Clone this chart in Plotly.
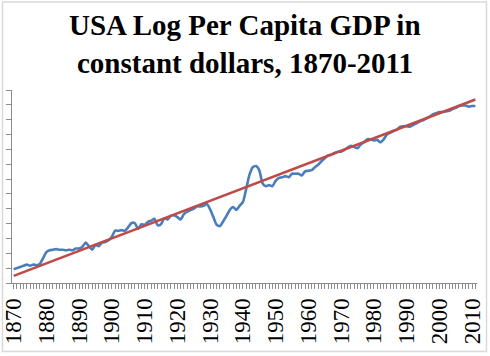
import plotly.graph_objects as go

years = list(range(1870, 2012))

log_gdp = [
    7.83, 7.85, 7.87, 7.89, 7.91, 7.89, 7.91, 7.90, 7.92, 8.02,  # 1870-1879
    8.12, 8.15, 8.16, 8.17, 8.16, 8.16, 8.15, 8.16, 8.15, 8.18,  # 1880-1889
    8.18, 8.21, 8.28, 8.22, 8.16, 8.24, 8.22, 8.28, 8.29, 8.32,  # 1890-1899
    8.38, 8.48, 8.48, 8.49, 8.48, 8.54, 8.61, 8.61, 8.51, 8.59,  # 1900-1909
    8.58, 8.63, 8.65, 8.68, 8.57, 8.59, 8.69, 8.67, 8.73, 8.74,  # 1910-1919
    8.71, 8.67, 8.76, 8.80, 8.83, 8.85, 8.89, 8.89, 8.90, 8.93,  # 1920-1929
    8.84, 8.71, 8.58, 8.56, 8.64, 8.73, 8.83, 8.88, 8.83, 8.90,  # 1930-1939
    8.96, 9.18, 9.42, 9.55, 9.57, 9.50, 9.28, 9.23, 9.25, 9.23,  # 1940-1949
    9.32, 9.37, 9.38, 9.40, 9.38, 9.44, 9.44, 9.44, 9.41, 9.48,  # 1950-1959
    9.49, 9.50, 9.55, 9.59, 9.65, 9.70, 9.75, 9.76, 9.79, 9.81,  # 1960-1969
    9.81, 9.84, 9.88, 9.91, 9.89, 9.87, 9.93, 9.97, 10.02, 10.02,  # 1970-1979
    10.00, 10.01, 9.97, 10.02, 10.10, 10.13, 10.16, 10.18, 10.23, 10.24,  # 1980-1989
    10.24, 10.23, 10.26, 10.29, 10.32, 10.34, 10.37, 10.40, 10.44, 10.46,  # 1990-1999
    10.48, 10.48, 10.49, 10.50, 10.53, 10.55, 10.58, 10.59, 10.59, 10.57,  # 2000-2009
    10.58, 10.58,  # 2010-2011
]

trend_years = [1870, 2011]
trend_values = [7.72, 10.69]

tick_years = list(range(1870, 2011, 10))

title_lines = ["USA Log Per Capita GDP in", "constant dollars, 1870-2011"]

SERIF = "Liberation Serif, Times New Roman, serif"

fig = go.Figure()
fig.add_trace(go.Scatter(
    x=years, y=log_gdp, mode="lines",
    line=dict(color="#4a7ebb", width=2.6, shape="spline", smoothing=0.6),
    showlegend=False, hoverinfo="x+y",
))
fig.add_trace(go.Scatter(
    x=trend_years, y=trend_values, mode="lines",
    line=dict(color="#be4b48", width=2.6),
    showlegend=False, hoverinfo="x+y",
))

fig.update_layout(
    width=490, height=356,
    margin=dict(l=12, r=13, t=90, b=73, pad=0, autoexpand=False),
    paper_bgcolor="white", plot_bgcolor="white",
    xaxis=dict(
        range=[1869.5, 2011.5],
        tickmode="array", tickvals=tick_years, ticktext=[str(y) for y in tick_years],
        tickangle=-90,
        tickfont=dict(family=SERIF, size=23, color="black"),
        ticks="outside", ticklen=5, tickcolor="#8c8c8c", tickwidth=1,
        minor=dict(ticks="outside", dtick=1, tick0=1870, ticklen=5, tickcolor="#8c8c8c", tickwidth=1, showgrid=False),
        showline=True, linecolor="#8c8c8c", linewidth=1,
        showgrid=False, zeroline=False, automargin=False,
    ),
    yaxis=dict(
        range=[7.6, 10.85],
        tick0=7.6, dtick=0.25,
        showticklabels=False,
        ticks="outside", ticklen=5, tickcolor="#8c8c8c", tickwidth=1,
        showline=True, linecolor="#8c8c8c", linewidth=1,
        showgrid=False, zeroline=False, automargin=False,
    ),
    annotations=[
        dict(text="<b>" + title_lines[0] + "</b>", xref="paper", yref="paper",
             x=0.5, y=(283 - 25) / 193, xanchor="center", yanchor="middle",
             showarrow=False, font=dict(family=SERIF, size=29, color="black")),
        dict(text="<b>" + title_lines[1] + "</b>", xref="paper", yref="paper",
             x=0.5, y=(283 - 63) / 193, xanchor="center", yanchor="middle",
             showarrow=False, font=dict(family=SERIF, size=29, color="black")),
    ],
    shapes=[dict(
        type="rect", xref="paper", yref="paper",
        x0=-9.5 / 465, x1=474.5 / 465, y0=-68.5 / 193, y1=281 / 193,
        line=dict(color="#d9d9d9", width=1.5), fillcolor="rgba(0,0,0,0)", layer="above",
    )],
)

fig.write_html(
    "out.html",
    config={"displayModeBar": False},
    post_script="document.body.style.margin='0';document.body.style.padding='0';",
)
